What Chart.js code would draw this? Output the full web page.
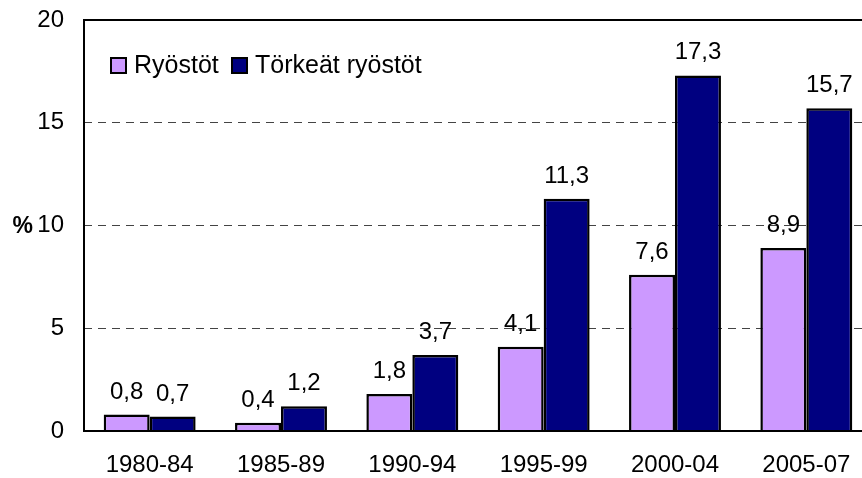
<!DOCTYPE html>
<html>
<head>
<meta charset="utf-8">
<script src="https://cdn.jsdelivr.net/npm/chart.js@4/dist/chart.umd.min.js"></script>
<style>
  html, body { margin: 0; padding: 0; background: #fff; overflow: hidden; }
  body { width: 862px; height: 478px; }
  #wrap { width: 872px; height: 478px; position: relative; }
</style>
</head>
<body>
<div id="wrap"><canvas id="chart"></canvas></div>
<script>
// data
const periods = ['1980-84', '1985-89', '1990-94', '1995-99', '2000-04', '2005-07'];
const ryostot = [0.8, 0.4, 1.8, 4.1, 7.6, 8.9];
const torkeat = [0.7, 1.2, 3.7, 11.3, 17.3, 15.7];
const seriesNames = ['Ryöstöt', 'Törkeät ryöstöt'];
const yTicks = [0, 5, 10, 15, 20];

const FONT = '"Liberation Sans", Arial, sans-serif';
const fmt = v => v.toFixed(1).replace('.', ',');

// frame: solid top/left/bottom lines, value labels, legend and the % sign
const extras = {
  id: 'extras',
  beforeDatasetsDraw(chart) {
    const { ctx, chartArea: a } = chart;
    ctx.save();
    ctx.setLineDash([]);
    ctx.strokeStyle = '#000';
    ctx.lineWidth = 2;
    ctx.beginPath();
    ctx.moveTo(a.right + 2, a.top);
    ctx.lineTo(a.left, a.top);
    ctx.lineTo(a.left, a.bottom);
    ctx.stroke();
    ctx.restore();
  },
  afterDatasetsDraw(chart) {
    const { ctx, chartArea: a, scales } = chart;
    ctx.save();
    ctx.setLineDash([]);
    ctx.strokeStyle = '#000';
    ctx.lineWidth = 2;
    ctx.beginPath();
    ctx.moveTo(a.left - 1, a.bottom);
    ctx.lineTo(a.right + 2, a.bottom);
    ctx.stroke();

    // value labels
    ctx.fillStyle = '#000';
    ctx.font = '24px ' + FONT;
    ctx.textAlign = 'center';
    ctx.textBaseline = 'alphabetic';
    chart.data.datasets.forEach((ds, i) => {
      chart.getDatasetMeta(i).data.forEach((bar, j) => {
        ctx.fillText(fmt(ds.data[j]), bar.x, bar.y - 16);
      });
    });

    // legend
    const items = [{ x: 111 }, { x: 232 }];
    chart.data.datasets.forEach((ds, i) => {
      const bx = items[i].x, by = 58;
      ctx.fillStyle = ds.backgroundColor;
      ctx.fillRect(bx, by, 15, 15);
      ctx.strokeRect(bx, by, 15, 15);
      ctx.fillStyle = '#000';
      ctx.textAlign = 'left';
      ctx.textBaseline = 'middle';
      ctx.font = '25px ' + FONT;
      ctx.fillText(ds.label, bx + 23, by + 8);
    });

    // % sign beside the 10 tick
    ctx.font = 'bold 23px ' + FONT;
    ctx.textAlign = 'right';
    ctx.textBaseline = 'middle';
    ctx.fillText('%', 33, scales.y.getPixelForValue(10) + 1);
    ctx.restore();
  }
};

new Chart(document.getElementById('chart'), {
  type: 'bar',
  data: {
    labels: periods,
    datasets: [
      { label: seriesNames[0], data: ryostot, backgroundColor: '#CC99FF', borderColor: '#000', borderWidth: 2.5 },
      { label: seriesNames[1], data: torkeat, backgroundColor: '#000080', borderColor: '#000', borderWidth: 2.5 }
    ]
  },
  options: {
    responsive: true,
    maintainAspectRatio: false,
    animation: false,
    layout: { padding: { top: 20, right: 0, bottom: 0, left: 0 } },
    datasets: { bar: { categoryPercentage: 0.70, barPercentage: 1.0 } },
    plugins: { legend: { display: false }, tooltip: { enabled: false } },
    scales: {
      x: {
        grid: { display: false, drawTicks: false },
        border: { display: false },
        ticks: { color: '#000', font: { family: FONT, size: 24 }, padding: 20, maxRotation: 0 },
        afterFit(s) { s.height = 47; s.paddingLeft = 0; s.paddingRight = 0; }
      },
      y: {
        min: 0,
        max: 20,
        afterBuildTicks(s) { s.ticks = yTicks.map(v => ({ value: v })); },
        grid: {
          drawTicks: false,
          color: c => (c.tick && (c.tick.value === 0 || c.tick.value === 20)) ? 'rgba(0,0,0,0)' : '#444',
          lineWidth: 1
        },
        border: { display: false, dash: [8, 6] },
        ticks: { color: '#000', font: { family: FONT, size: 24 }, padding: 20 },
        afterFit(s) { s.width = 84; s.paddingTop = 0; s.paddingBottom = 0; }
      }
    }
  },
  plugins: [extras]
});
</script>
</body>
</html>
